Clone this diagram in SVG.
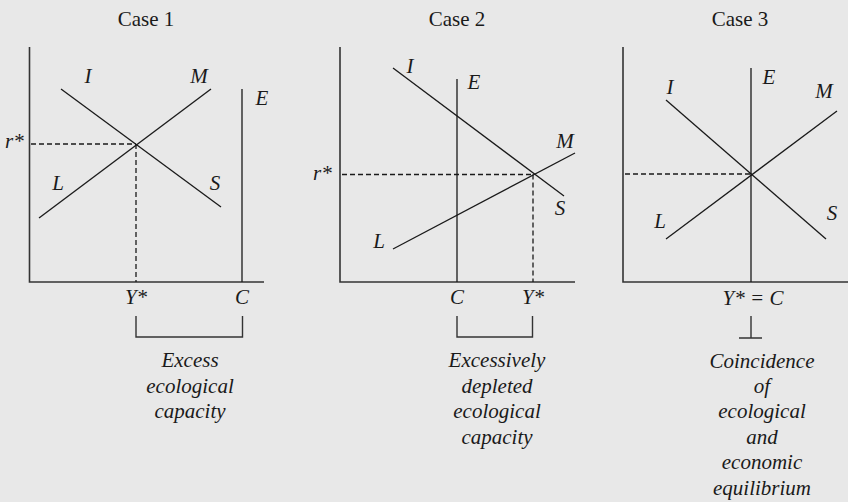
<svg xmlns="http://www.w3.org/2000/svg" width="848" height="502" viewBox="0 0 848 502">
<style>
.bg{fill:#e8e8e8}
.ax{stroke:#333;stroke-width:1.6;fill:none}
.ln{stroke:#1a1a1a;stroke-width:1.3;fill:none}
.ds{stroke:#1a1a1a;stroke-width:1.3;fill:none;stroke-dasharray:5 3}
.br{stroke:#333;stroke-width:1.4;fill:none}
text{font-family:"Liberation Serif","DejaVu Serif",serif;fill:#1a1a1a;font-size:21px}
.t{text-anchor:middle}
.i{font-style:italic}
.c{font-style:italic;text-anchor:middle}
</style>
<rect class="bg" x="0" y="0" width="848" height="502"/>

<g id="case1">
  <text class="t" x="146" y="26">Case 1</text>
  <path class="ax" d="M29.5,47 V282 H264"/>
  <text class="i" x="5" y="148">r*</text>
  <text class="c" x="88" y="83">I</text>
  <text class="c" x="199" y="83">M</text>
  <text class="c" x="262" y="105">E</text>
  <text class="c" x="58" y="190">L</text>
  <text class="c" x="215" y="190">S</text>
  <text class="c" x="136" y="304">Y*</text>
  <text class="c" x="242" y="304">C</text>
  <text class="c" x="190" y="367">Excess</text>
  <text class="c" x="190" y="393">ecological</text>
  <text class="c" x="190" y="418">capacity</text>
</g>

<g id="case2">
  <text class="t" x="457" y="26">Case 2</text>
  <path class="ax" d="M340,47 V282 H575"/>
  <text class="i" x="313" y="180">r*</text>
  <text class="c" x="410" y="73">I</text>
  <text class="c" x="474" y="89">E</text>
  <text class="c" x="565" y="148">M</text>
  <text class="c" x="560" y="215">S</text>
  <text class="c" x="379" y="248">L</text>
  <text class="c" x="457" y="304">C</text>
  <text class="c" x="533" y="304">Y*</text>
  <text class="c" x="497" y="367">Excessively</text>
  <text class="c" x="497" y="393">depleted</text>
  <text class="c" x="497" y="418">ecological</text>
  <text class="c" x="497" y="444">capacity</text>
</g>

<g id="case3">
  <text class="t" x="740" y="26">Case 3</text>
  <path class="ax" d="M623,47 V282 H848"/>
  <text class="c" x="670" y="94">I</text>
  <text class="c" x="769" y="84">E</text>
  <text class="c" x="824" y="98">M</text>
  <text class="c" x="660" y="228">L</text>
  <text class="c" x="832" y="220">S</text>
  <text class="c" x="753" y="305">Y* = C</text>
  <text class="c" x="762" y="368">Coincidence</text>
  <text class="c" x="762" y="393">of</text>
  <text class="c" x="762" y="418">ecological</text>
  <text class="c" x="762" y="444">and</text>
  <text class="c" x="762" y="469">economic</text>
  <text class="c" x="762" y="495">equilibrium</text>
</g>

<g id="connectors">
  <!-- case 1 -->
  <line class="ln" x1="61" y1="89" x2="221" y2="207"/>
  <line class="ln" x1="39" y1="218" x2="211" y2="89"/>
  <line class="ln" x1="242" y1="89" x2="242" y2="282"/>
  <line class="ds" x1="31" y1="144" x2="136" y2="144"/>
  <line class="ds" x1="136" y1="144" x2="136" y2="282"/>
  <path class="br" d="M136,316 V337 H242.5 V316"/>
  <!-- case 2 -->
  <line class="ln" x1="393" y1="68" x2="564" y2="196"/>
  <line class="ln" x1="393" y1="249" x2="575" y2="153"/>
  <line class="ln" x1="457" y1="79" x2="457" y2="282"/>
  <line class="ds" x1="342" y1="174.5" x2="533" y2="174.5"/>
  <line class="ds" x1="533" y1="174.5" x2="533" y2="282"/>
  <path class="br" d="M457,316 V337 H532.5 V316"/>
  <!-- case 3 -->
  <line class="ln" x1="666" y1="100" x2="826" y2="239"/>
  <line class="ln" x1="666" y1="239" x2="837" y2="111"/>
  <line class="ln" x1="751" y1="68" x2="751" y2="282"/>
  <line class="ds" x1="625" y1="174" x2="751" y2="174"/>
  <path class="br" d="M751,316 V338 M739,338 H762"/>
</g>
</svg>
